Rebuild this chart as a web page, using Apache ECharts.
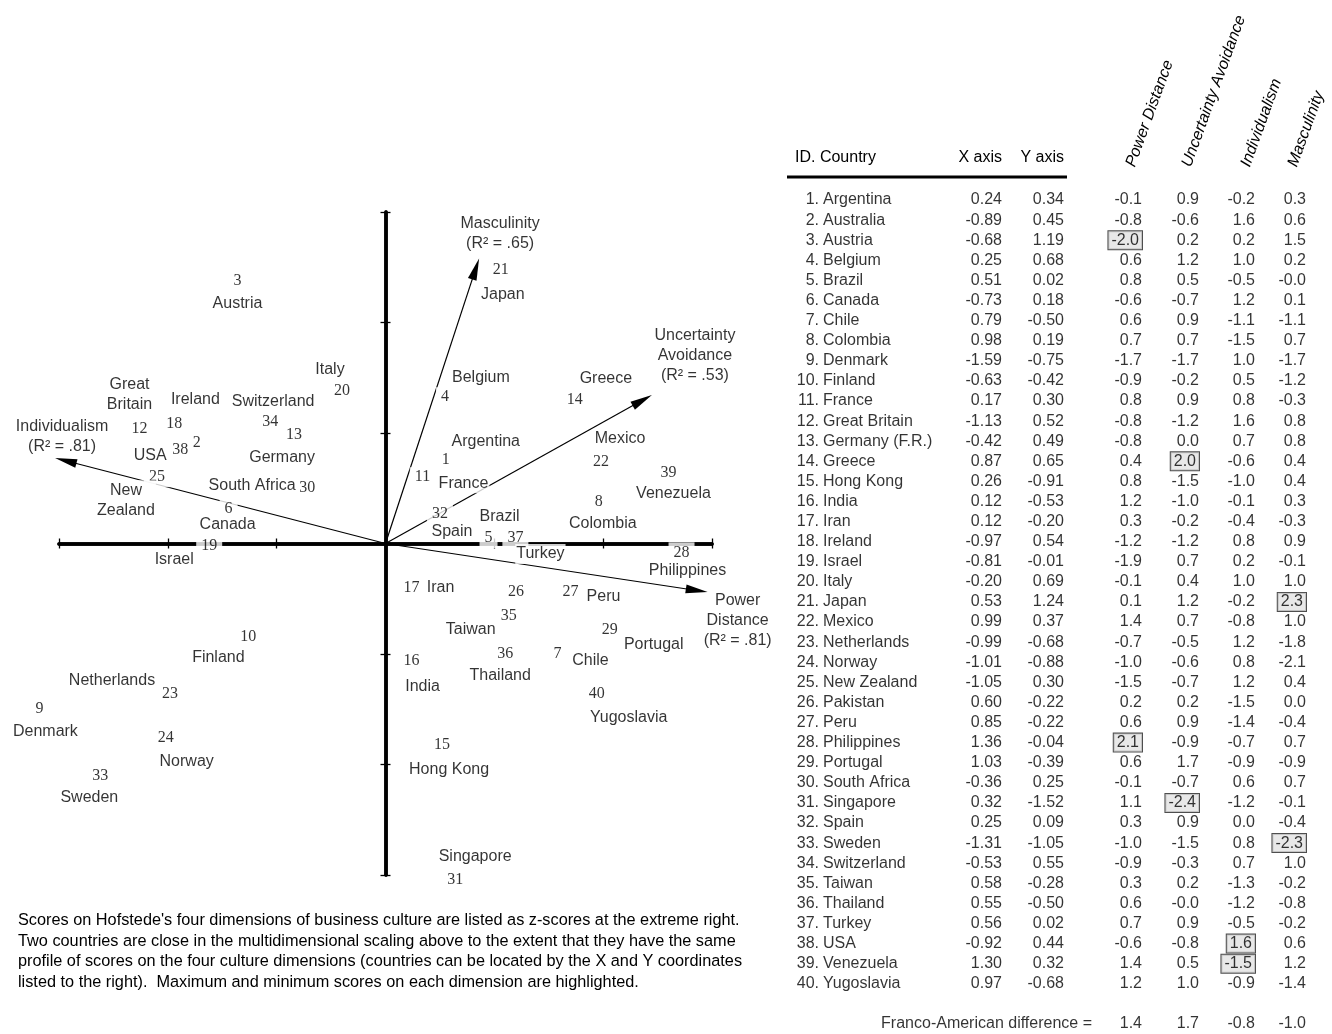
<!DOCTYPE html>
<html>
<head>
<meta charset="utf-8">
<script src="https://cdn.jsdelivr.net/npm/echarts@6/dist/echarts.min.js"></script>
<style>
  html, body { margin: 0; padding: 0; background: #fff; }
  #chart { width: 1332px; height: 1034px; }
</style>
</head>
<body>
<div id="chart"></div>
<script>
const countries = ['Argentina', 'Australia', 'Austria', 'Belgium', 'Brazil', 'Canada', 'Chile', 'Colombia', 'Denmark', 'Finland',
  'France', 'Great Britain', 'Germany (F.R.)', 'Greece', 'Hong Kong', 'India', 'Iran', 'Ireland', 'Israel', 'Italy',
  'Japan', 'Mexico', 'Netherlands', 'Norway', 'New Zealand', 'Pakistan', 'Peru', 'Philippines', 'Portugal', 'South Africa',
  'Singapore', 'Spain', 'Sweden', 'Switzerland', 'Taiwan', 'Thailand', 'Turkey', 'USA', 'Venezuela', 'Yugoslavia'];

// names as written inside the map ('' = no name shown)
const plotNames = ['Argentina', '', 'Austria', 'Belgium', 'Brazil', 'Canada', 'Chile', 'Colombia', 'Denmark', 'Finland',
  'France', 'Great\nBritain', 'Germany', 'Greece', 'Hong Kong', 'India', 'Iran', 'Ireland', 'Israel', 'Italy',
  'Japan', 'Mexico', 'Netherlands', 'Norway', 'New\nZealand', '', 'Peru', 'Philippines', 'Portugal', 'South Africa',
  'Singapore', 'Spain', 'Sweden', 'Switzerland', 'Taiwan', 'Thailand', 'Turkey', 'USA', 'Venezuela', 'Yugoslavia'];

const xCoord = [0.24, -0.89, -0.68, 0.25, 0.51, -0.73, 0.79, 0.98, -1.59, -0.63, 0.17, -1.13, -0.42, 0.87, 0.26, 0.12, 0.12, -0.97, -0.81, -0.20,
  0.53, 0.99, -0.99, -1.01, -1.05, 0.60, 0.85, 1.36, 1.03, -0.36, 0.32, 0.25, -1.31, -0.53, 0.58, 0.55, 0.56, -0.92, 1.30, 0.97];
const yCoord = [0.34, 0.45, 1.19, 0.68, 0.02, 0.18, -0.50, 0.19, -0.75, -0.42, 0.30, 0.52, 0.49, 0.65, -0.91, -0.53, -0.20, 0.54, -0.01, 0.69,
  1.24, 0.37, -0.68, -0.88, 0.30, -0.22, -0.22, -0.04, -0.39, 0.25, -1.52, 0.09, -1.05, 0.55, -0.28, -0.50, 0.02, 0.44, 0.32, -0.68];

const powerDistance = [-0.1, -0.8, -2.0, 0.6, 0.8, -0.6, 0.6, 0.7, -1.7, -0.9, 0.8, -0.8, -0.8, 0.4, 0.8, 1.2, 0.3, -1.2, -1.9, -0.1,
  0.1, 1.4, -0.7, -1.0, -1.5, 0.2, 0.6, 2.1, 0.6, -0.1, 1.1, 0.3, -1.0, -0.9, 0.3, 0.6, 0.7, -0.6, 1.4, 1.2];
const uncertainty = [0.9, -0.6, 0.2, 1.2, 0.5, -0.7, 0.9, 0.7, -1.7, -0.2, 0.9, -1.2, 0.0, 2.0, -1.5, -1.0, -0.2, -1.2, 0.7, 0.4,
  1.2, 0.7, -0.5, -0.6, -0.7, 0.2, 0.9, -0.9, 1.7, -0.7, -2.4, 0.9, -1.5, -0.3, 0.2, -0.0, 0.9, -0.8, 0.5, 1.0];
const individualism = [-0.2, 1.6, 0.2, 1.0, -0.5, 1.2, -1.1, -1.5, 1.0, 0.5, 0.8, 1.6, 0.7, -0.6, -1.0, -0.1, -0.4, 0.8, 0.2, 1.0,
  -0.2, -0.8, 1.2, 0.8, 1.2, -1.5, -1.4, -0.7, -0.9, 0.6, -1.2, 0.0, 0.8, 0.7, -1.3, -1.2, -0.5, 1.6, -1.5, -0.9];
const masculinity = [0.3, 0.6, 1.5, 0.2, -0.0, 0.1, -1.1, 0.7, -1.7, -1.2, -0.3, 0.8, 0.8, 0.4, 0.4, 0.3, -0.3, 0.9, -0.1, 1.0,
  2.3, 1.0, -1.8, -2.1, 0.4, 0.0, -0.4, 0.7, -0.9, 0.7, -0.1, -0.4, -2.3, 1.0, -0.2, -0.8, -0.2, 0.6, 1.2, -1.4];
const francoAmerican = [1.4, 1.7, -0.8, -1.0];

// ids of the highlighted max/min cells, per dimension
const highlighted = [[3, 28], [14, 31], [38, 39], [21, 33]];

const dimHeaders = ['Power Distance', 'Uncertainty Avoidance', 'Individualism', 'Masculinity'];
const dimLabels = ['Power\nDistance\n(R² = .81)', 'Masculinity\n(R² = .65)', 'Uncertainty\nAvoidance\n(R² = .53)', 'Individualism\n(R² = .81)'];
const dimX = [1.48, 0.43, 1.224, -1.518];
const dimY = [-0.22, 1.29, 0.672, 0.387];

const caption = "Scores on Hofstede's four dimensions of business culture are listed as z-scores at the extreme right.\n" +
  'Two countries are close in the multidimensional scaling above to the extent that they have the same\n' +
  'profile of scores on the four culture dimensions (countries can be located by the X and Y coordinates\n' +
  'listed to the right).  Maximum and minimum scores on each dimension are highlighted.';

// label placement (pixels), keyed by id
const numOffset = { 1: [8, -9], 2: [5, -1], 4: [5, 4], 5: [-8, -1], 6: [2, 5], 32: [0, -10], 35: [-3, 10], 37: [8, -1], 38: [-5, 4] };
const nameOffset = {
  1: [48, -27], 3: [0, 23], 4: [41, -16], 5: [3, -22], 6: [1, 21], 7: [33, 7], 8: [4, 22], 9: [6, 22], 10: [-30, 21],
  11: [41, 6], 12: [-10, -34], 13: [-12, 22], 14: [31, -21], 15: [7, 25], 16: [11, 26], 17: [29, 0], 18: [21, -25],
  19: [-35, 14], 20: [-12, -21], 21: [2, 25], 22: [19, -23], 23: [-58, -13], 24: [21, 24], 25: [-31, 23], 27: [33, 4],
  28: [6, 18], 29: [44, 15], 30: [-55, -3], 31: [20, -23], 32: [12, 8], 33: [-11, 22], 34: [3, -20], 35: [-41, 24],
  36: [-5, 22], 37: [33, 15], 38: [-35, 9], 39: [5, 21], 40: [32, 24]
};
const dimOffset = [[30, 28], [21, -25], [43, -39], [7, -21]];
const arrowHead = [9, 22];

// table column anchors (units of the table axis)
const colId = 32, colName = 36, colX = 215, colY = 277, colFranco = 305;
const colDims = [355, 412, 468, 519];
const headerX = [1138, 1194, 1253, 1300];

const sans = 'Liberation Sans';
const serif = 'Liberation Serif';
const fmt1 = v => (Object.is(v, -0) ? '-0.0' : v.toFixed(1));

const plotAxis = (position) => ({
  gridIndex: 0, type: 'value', min: -1.5, max: 1.5, interval: 0.5, position: position,
  axisLine: { onZero: true, onZeroAxisIndex: 0, lineStyle: { color: '#000', width: 3.5 } },
  axisTick: { show: true, length: 5, lineStyle: { color: '#000', width: 1.3 } },
  axisLabel: { show: false }, splitLine: { show: false }
});

const tableSeries = (x, texts, align, hiIds) => ({
  type: 'scatter', xAxisIndex: 2, yAxisIndex: 2, symbolSize: 0, clip: false, silent: true, z: 5,
  data: texts.map((t, i) => {
    const item = { value: [x, i], txt: t };
    if (hiIds && hiIds.indexOf(i + 1) >= 0) {
      item.label = { backgroundColor: '#e2e2e2', borderColor: '#222', borderWidth: 1, padding: [2, 3, 0, 3] };
    }
    return item;
  }),
  label: {
    show: true, position: 'inside', align: align, formatter: p => p.data.txt,
    color: '#000', fontFamily: sans, fontSize: 16
  }
});

const dims = [powerDistance, uncertainty, individualism, masculinity];
const rows = countries.map((c, i) => String(i + 1)).concat(['gap', 'diff']);

const series = [
  {
    type: 'lines', coordinateSystem: 'cartesian2d', xAxisIndex: 0, yAxisIndex: 0, z: 3, silent: true, clip: false,
    symbol: ['none', 'triangle'], symbolSize: [0, arrowHead],
    lineStyle: { color: '#000', width: 1.2, opacity: 1 },
    itemStyle: { color: '#000' },
    data: dimX.map((x, i) => ({ coords: [[0, 0], [x, dimY[i]]] }))
  },
  {
    type: 'scatter', xAxisIndex: 0, yAxisIndex: 0, symbolSize: 0, clip: false, silent: true, z: 5,
    data: dimX.map((x, i) => ({ value: [x, dimY[i]], txt: dimLabels[i], label: { offset: dimOffset[i] } })),
    label: { show: true, position: 'inside', formatter: p => p.data.txt, color: '#000', fontFamily: sans, fontSize: 16, lineHeight: 20, align: 'center' }
  },
  {
    type: 'scatter', xAxisIndex: 0, yAxisIndex: 0, symbolSize: 0, clip: false, silent: true, z: 6,
    data: xCoord.map((x, i) => ({ value: [x, yCoord[i]], txt: String(i + 1), label: { offset: numOffset[i + 1] || [0, 0] } })),
    label: {
      show: true, position: 'inside', formatter: p => p.data.txt, color: '#000', fontFamily: serif, fontSize: 16,
      backgroundColor: '#fff', padding: [3, 5, 1, 5]
    }
  },
  {
    type: 'scatter', xAxisIndex: 0, yAxisIndex: 0, symbolSize: 0, clip: false, silent: true, z: 6,
    data: xCoord.map((x, i) => ({ value: [x, yCoord[i]], txt: plotNames[i], label: { offset: nameOffset[i + 1] || [0, 0] } }))
      .filter(d => d.txt !== ''),
    label: {
      show: true, position: 'inside', formatter: p => p.data.txt, color: '#000', fontFamily: sans, fontSize: 16,
      lineHeight: 20, align: 'center', backgroundColor: '#fff', padding: [0, 1]
    }
  },
  tableSeries(colId, countries.map((c, i) => (i + 1) + '.'), 'right'),
  tableSeries(colName, countries, 'left'),
  tableSeries(colX, xCoord.map(v => v.toFixed(2)), 'right'),
  tableSeries(colY, yCoord.map(v => v.toFixed(2)), 'right'),
  ...dims.map((d, k) => tableSeries(colDims[k], d.map(fmt1), 'right', highlighted[k])),
  {
    type: 'scatter', xAxisIndex: 2, yAxisIndex: 2, symbolSize: 0, clip: false, silent: true, z: 5,
    data: [{ value: [colFranco, 41], txt: 'Franco-American difference =' }]
      .concat(francoAmerican.map((v, k) => ({ value: [colDims[k], 41], txt: fmt1(v) }))),
    label: { show: true, position: 'inside', align: 'right', formatter: p => p.data.txt, color: '#000', fontFamily: sans, fontSize: 16 }
  }
];

const headerFont = '16px "Liberation Sans"';
const graphic = [
  { type: 'text', x: 795, y: 158, style: { text: 'ID. Country', font: headerFont, fill: '#000', align: 'left', textAlign: 'left', verticalAlign: 'middle', textVerticalAlign: 'middle' } },
  { type: 'text', x: 1002, y: 158, style: { text: 'X axis', font: headerFont, fill: '#000', align: 'right', textAlign: 'right', verticalAlign: 'middle', textVerticalAlign: 'middle' } },
  { type: 'text', x: 1064, y: 158, style: { text: 'Y axis', font: headerFont, fill: '#000', align: 'right', textAlign: 'right', verticalAlign: 'middle', textVerticalAlign: 'middle' } },
  { type: 'line', shape: { x1: 787, y1: 177, x2: 1067, y2: 177 }, style: { stroke: '#000', lineWidth: 3 } }
].concat(dimHeaders.map((t, k) => ({
  type: 'text', x: headerX[k], y: 169, rotation: 70 * Math.PI / 180,
  style: { text: t, font: 'italic ' + headerFont, fill: '#000', align: 'left', textAlign: 'left', verticalAlign: 'bottom', textVerticalAlign: 'bottom' }
})));

const option = {
  backgroundColor: '#fff',
  animation: false,
  title: {
    text: caption, left: 13, top: 905,
    textStyle: { fontFamily: sans, fontSize: 16.3, fontWeight: 'normal', lineHeight: 20.7, color: '#000' }
  },
  grid: [
    { left: 59, top: 212, width: 653, height: 663 },
    { left: 787, top: 190, width: 545, height: 844.2 }
  ],
  xAxis: [
    plotAxis('bottom'),
    plotAxis('top'),
    { gridIndex: 1, type: 'value', min: 0, max: 545, show: false }
  ],
  yAxis: [
    plotAxis('left'),
    plotAxis('right'),
    { gridIndex: 1, type: 'category', data: rows, inverse: true, show: false }
  ],
  graphic: graphic,
  series: series
};

const myChart = echarts.init(document.getElementById('chart'));
myChart.setOption(option);

// the arrow head is centred on the line end: pull the end back so the tip sits on the vector end
const origin = myChart.convertToPixel({ gridIndex: 0 }, [0, 0]);
const arrows = dimX.map((x, i) => {
  const tip = myChart.convertToPixel({ gridIndex: 0 }, [x, dimY[i]]);
  const dx = tip[0] - origin[0];
  const dy = tip[1] - origin[1];
  const len = Math.hypot(dx, dy);
  const k = (len - arrowHead[1] / 2) / len;
  const end = myChart.convertFromPixel({ gridIndex: 0 }, [origin[0] + dx * k, origin[1] + dy * k]);
  return { coords: [[0, 0], end] };
});
myChart.setOption({ series: [{ data: arrows }] });
</script>
</body>
</html>
